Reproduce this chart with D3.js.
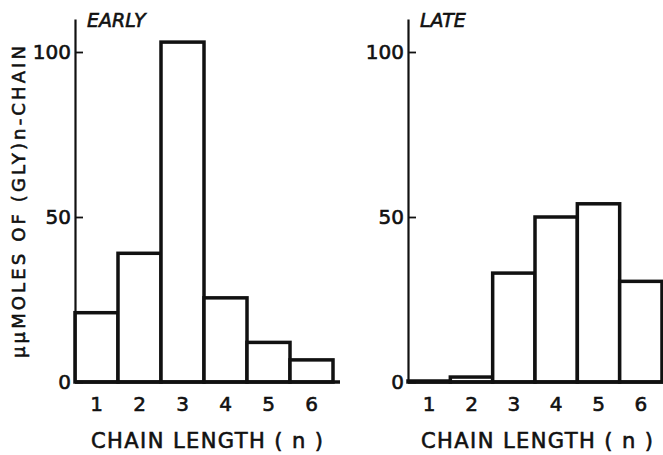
<!DOCTYPE html>
<html>
<head>
<meta charset="utf-8">
<script src="https://cdn.jsdelivr.net/npm/d3@7"></script>
<style>
  body { margin: 0; background: #fff; }
  svg { display: block; font-family: "DejaVu Sans", sans-serif; }
  text { stroke: #111; stroke-width: 0.6; }
  .tick text { font-size: 20px; fill: #111; font-family: "DejaVu Sans", sans-serif; }
</style>
</head>
<body>
<div id="chart"></div>
<script>
const chainLength = [1, 2, 3, 4, 5, 6];
const earlyValues = [21, 39, 103, 25.5, 12, 6.7];
const lateValues = [0.3, 1.5, 33, 50, 54, 30.5];
const yTicks = [0, 50, 100];

const width = 663, height = 455;
const svg = d3.select("#chart").append("svg")
    .attr("width", width)
    .attr("height", height);

const scaleY = d3.scaleLinear()
    .domain([0, 110])
    .range([382, 19]);

function panel(values, title, x0, x1, lineEnd, labelX) {
  const scaleX = d3.scaleBand()
      .domain(chainLength)
      .range([x0, x1])
      .padding(0);

  const g = svg.append("g");

  // bars
  g.selectAll("rect")
    .data(values).enter()
    .append("rect")
      .attr("x", function(d, i) { return scaleX(chainLength[i]); })
      .attr("y", function(d) { return scaleY(d); })
      .attr("width", scaleX.bandwidth())
      .attr("height", function(d) { return scaleY(0) - scaleY(d); })
      .attr("fill", "#fff")
      .attr("stroke", "#111")
      .attr("stroke-width", 3.5);

  // baseline
  g.append("line")
    .attr("x1", x0).attr("x2", lineEnd)
    .attr("y1", scaleY(0)).attr("y2", scaleY(0))
    .attr("stroke", "#111")
    .attr("stroke-width", 3.5);

  // y axis
  const yAxis = g.append("g")
    .attr("transform", `translate(${x0},0)`)
    .call(d3.axisLeft(scaleY).tickValues(yTicks).tickSize(-8).tickSizeOuter(0).tickPadding(4).tickFormat(d3.format("d")));
  yAxis.select(".domain").attr("stroke", "#111").attr("stroke-width", 2.2);
  yAxis.selectAll(".tick line").attr("stroke", "#111").attr("stroke-width", 1.8);

  // x tick labels
  const xAxis = g.append("g")
    .attr("transform", `translate(0,${scaleY(0)})`)
    .call(d3.axisBottom(scaleX).tickSize(0).tickPadding(15));
  xAxis.select(".domain").remove();

  // panel title
  g.append("text")
    .attr("x", x0 + 12)
    .attr("y", 27)
    .attr("font-size", 19)
    .attr("font-style", "italic")
    .attr("fill", "#111")
    .text(title);

  // x axis title
  g.append("text")
    .attr("x", labelX)
    .attr("y", 448)
    .attr("text-anchor", "middle")
    .attr("font-size", 21)
    .attr("fill", "#111")
    .attr("textLength", 232)
    .attr("lengthAdjust", "spacing")
    .text("CHAIN LENGTH ( n )");
}

panel(earlyValues, "EARLY", 75, 333, 340, 207);
panel(lateValues, "LATE", 408, 662, 663, 537);

// y axis title
svg.append("text")
  .attr("transform", "translate(25,202) rotate(-90)")
  .attr("text-anchor", "middle")
  .attr("font-size", 18)
  .attr("fill", "#111")
  .attr("textLength", 312)
  .attr("lengthAdjust", "spacing")
  .text("μμMOLES OF (GLY)n-CHAIN");
</script>
</body>
</html>
